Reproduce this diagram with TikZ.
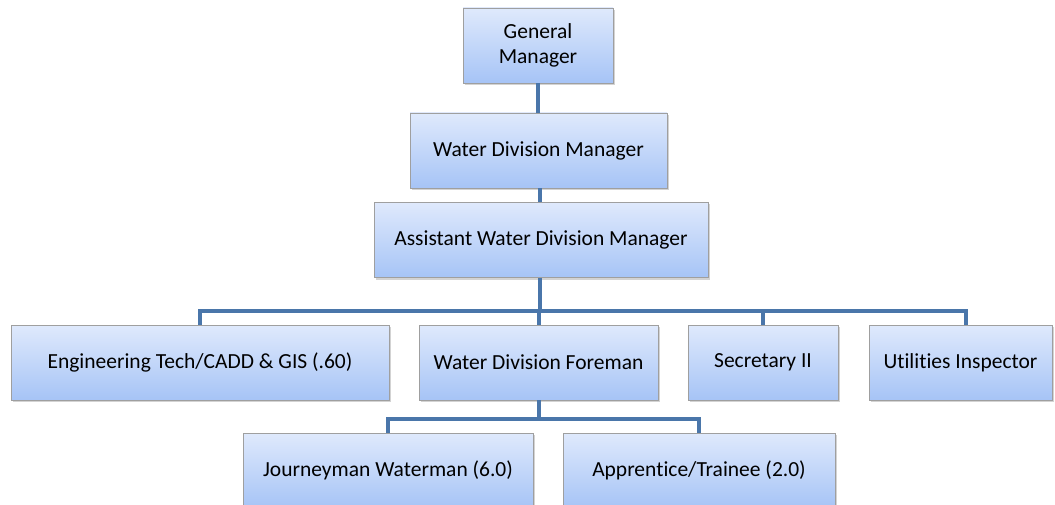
\documentclass[tikz,border=0pt]{standalone}
\usepackage{fontspec}
\setmainfont{Carlito}[Ligatures=NoCommon]
\usetikzlibrary{shadows}
\definecolor{boxtop}{RGB}{223,233,252}
\definecolor{boxbot}{RGB}{166,196,246}
\definecolor{linkblue}{RGB}{74,118,170}

\begin{document}
\begin{tikzpicture}[x=1pt,y=-1pt,
    post/.style={draw=gray!75,top color=boxtop,bottom color=boxbot,
      minimum height=75pt,inner sep=2pt,align=center,
      font=\fontsize{21.5}{25}\selectfont,
      drop shadow={shadow xshift=2pt,shadow yshift=-2pt,opacity=0.35}},
    link/.style={draw=linkblue,line width=4pt}]
            \useasboundingbox (0,0) rectangle (1055,505);
            % top of the chart
            \node[post,minimum width=150pt] (gm) at (538,45.5) {General\\Manager};
            \node[post,minimum width=257pt] (wdm) at (538.5,150.5) {Water Division Manager};
            \node[post,minimum width=334pt] (awdm) at (541,240) {Assistant Water Division Manager};
            % second row
            \node[post,minimum width=378pt] (eng) at (200,362.5) {Engineering Tech/CADD \& GIS (.60)};
            \node[post,minimum width=239pt] (fore) at (538.5,362.5) {Water Division Foreman};
            \node[post,minimum width=150pt] (sec) at (763,362.5) {Secretary II};
            \node[post,minimum width=183pt] (util) at (960.5,362.5) {Utilities Inspector};
            % third row
            \node[post,minimum width=290pt] (jw) at (388,470.5) {Journeyman Waterman (6.0)};
            \node[post,minimum width=272pt] (app) at (699,470.5) {Apprentice/Trainee (2.0)};
            \coordinate (bus) at (540,311);
            \coordinate (sub) at (538.5,419);
            \draw[link] (gm.south)--(gm.south|-wdm.north);
            \draw[link] (bus|-wdm.south)--(bus|-awdm.north);
            \draw[link] (bus|-awdm.south)--(bus);
            \draw[link] (eng.north) |- (bus) -| ([xshift=5pt]util.north);
            \draw[link] (bus) -| (fore.north);
            \draw[link] (sec.north)--(sec.north|-bus);
            \draw[link] (fore.south)--(sub);
            \draw[link] (jw.north) |- (sub) -| (app.north);
        \end{tikzpicture}
\end{document}
